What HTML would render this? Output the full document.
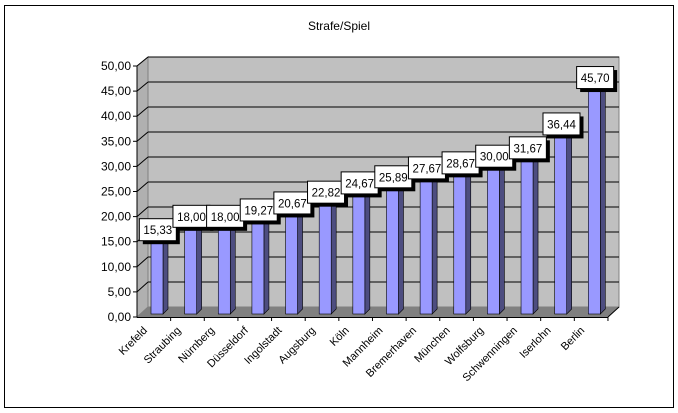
<!DOCTYPE html>
<html><head><meta charset="utf-8"><style>body{margin:0;background:#fff}svg{display:block;font-family:"Liberation Sans",sans-serif}</style></head><body>
<svg width="678" height="413" xmlns="http://www.w3.org/2000/svg">
<rect x="4.5" y="5.5" width="669" height="402" fill="#fff" stroke="#000"/>
<text x="339" y="30" font-size="12" text-anchor="middle">Strafe/Spiel</text>
<polygon points="137,66 148,57 148,307 137,317" fill="#b0b0b0" stroke="#808080"/>
<rect x="148" y="57" width="471" height="250" fill="#c0c0c0" stroke="#808080"/>
<polygon points="137,317 148,307 619,307 608,317" fill="#808080"/>
<g id="grid" stroke="#000" stroke-width="1"></g>
<g id="bars"></g>
<line x1="137" y1="66" x2="137" y2="317" stroke="#000"/>
<line x1="137" y1="317.5" x2="608" y2="317.5" stroke="#000"/>
<line x1="608" y1="317" x2="619" y2="307" stroke="#000"/>
<g id="yl" font-size="12" text-anchor="end"></g>
<g id="xl" font-size="11" text-anchor="end"></g>
<g id="lb" font-size="11.5" text-anchor="middle"></g>
</svg>
<script>
const ns="http://www.w3.org/2000/svg";
function el(p,t,a,txt){const e=document.createElementNS(ns,t);for(const k in a)e.setAttribute(k,a[k]);if(txt!=null)e.textContent=txt;document.getElementById(p).appendChild(e);return e;}
for(let v=0;v<=50;v+=5){const yf=317-v*5.02,yb=307-v*5.0;
 if(v>0){el("grid","line",{x1:137,y1:yf,x2:148,y2:yb});el("grid","line",{x1:148,y1:yb,x2:619,y2:yb});}
 el("yl","line",{x1:133,y1:yf,x2:137,y2:yf,stroke:"#000"});
 el("yl","text",{x:131,y:yf+4},v.toFixed(2).replace(".",","));}
const n=["Krefeld","Straubing","Nürnberg","Düsseldorf","Ingolstadt","Augsburg","Köln","Mannheim","Bremerhaven","München","Wolfsburg","Schwenningen","Iserlohn","Berlin"];
const d=[15.33,18,18,19.27,20.67,22.82,24.67,25.89,27.67,28.67,30,31.67,36.44,45.7];
const w=33.64;
for(let i=0;i<14;i++){
 const x=137+i*w+14,yb=314,top=yb-d[i]*5.01;
 el("bars","polygon",{points:`${x+12},${top} ${x+17},${top-5} ${x+17},${yb-5} ${x+12},${yb}`,fill:"#4d4d80",stroke:"#000","stroke-width":0.6});
 el("bars","polygon",{points:`${x},${top} ${x+5},${top-5} ${x+17},${top-5} ${x+12},${top}`,fill:"#b3b3ff",stroke:"#000","stroke-width":0.6});
 el("bars","rect",{x:x,y:top,width:12,height:yb-top,fill:"#9999ff",stroke:"#000","stroke-width":0.6});
 const t=137+(i+1)*w; el("xl","line",{x1:t,y1:317,x2:t,y2:321,stroke:"#000"});
 const cx=137+(i+0.5)*w;
 el("xl","text",{x:cx-6,y:331,transform:`rotate(-45 ${cx-6} 331)`},n[i]);
 const lx=cx+4,by=top+4;
 el("lb","rect",{x:lx-18+3,y:by-22+3,width:37,height:22,fill:"#000"});
 el("lb","rect",{x:lx-18.5,y:by-22.5,width:37,height:22,fill:"#fff",stroke:"#000"});
 el("lb","text",{x:lx,y:by-7},d[i].toFixed(2).replace(".",","));
}
</script>
</body></html>
